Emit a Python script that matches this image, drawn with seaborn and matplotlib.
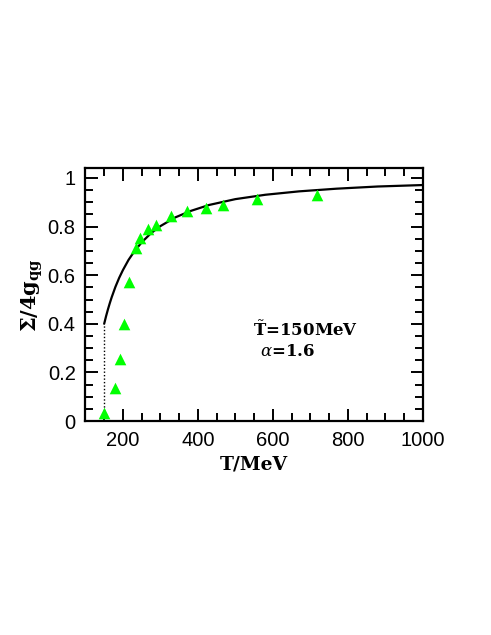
import matplotlib
matplotlib.use("Agg")
import matplotlib.pyplot as plt
from matplotlib.ticker import MultipleLocator
import seaborn as sns
import pandas as pd

# data
data_T = [150, 178, 193, 204, 216, 235, 246, 268, 287, 328, 371, 423, 466, 559, 717]
data_y = [0.034, 0.134, 0.255, 0.40, 0.574, 0.711, 0.755, 0.79, 0.808, 0.843,
          0.863, 0.877, 0.89, 0.914, 0.932]

curve_T = [150, 155, 160, 165, 170, 180, 190, 200, 215, 230, 250, 275, 300, 340,
           380, 430, 500, 580, 670, 770, 880, 1000]
curve_y = [0.400, 0.431, 0.459, 0.485, 0.509, 0.552, 0.589, 0.621, 0.663, 0.697,
           0.735, 0.773, 0.802, 0.838, 0.864, 0.889, 0.913, 0.931, 0.945, 0.956,
           0.965, 0.971]

x_ticks = [200, 400, 600, 800, 1000]
y_ticks = [0, 0.2, 0.4, 0.6, 0.8, 1]
y_tick_labels = ["0", "0.2", "0.4", "0.6", "0.8", "1"]

sns.set_style("ticks")
plt.rcParams["font.family"] = ["Liberation Sans", "DejaVu Sans"]
plt.rcParams["mathtext.fontset"] = "dejavuserif"
for k in ["text.color", "axes.labelcolor", "xtick.color", "ytick.color",
          "axes.edgecolor"]:
    plt.rcParams[k] = "black"

fig = plt.figure(figsize=(4.91, 6.35), dpi=100)
ax = fig.add_axes([0.174, 0.337, 0.687, 0.398])

df_pts = pd.DataFrame({"T": data_T, "y": data_y})
df_cur = pd.DataFrame({"T": curve_T, "y": curve_y})

sns.lineplot(data=df_cur, x="T", y="y", ax=ax, color="black", linewidth=1.6,
             sort=True, estimator=None)
ax.plot([curve_T[0], curve_T[0]], [0, curve_y[0]], color="black",
        linestyle=(0, (1, 1.5)), linewidth=1.0)
sns.scatterplot(data=df_pts, x="T", y="y", ax=ax, marker="^", color="#00ff00",
                s=70, linewidth=0, zorder=3)

ax.set_xlim(100, 1000)
ax.set_ylim(0, 1.04)
ax.set_xticks(x_ticks)
ax.set_yticks(y_ticks)
ax.set_yticklabels(y_tick_labels)
ax.xaxis.set_minor_locator(MultipleLocator(50))
ax.yaxis.set_minor_locator(MultipleLocator(0.05))
ax.tick_params(which="both", direction="in", top=True, right=True, width=1.4,
               labelsize=14.5, pad=7)
ax.tick_params(which="major", length=9)
ax.tick_params(which="minor", length=5.5)
for sp in ax.spines.values():
    sp.set_linewidth(1.6)
    sp.set_visible(True)

ax.set_xlabel("T/MeV", family="DejaVu Serif", fontweight="bold", fontsize=13.5,
              labelpad=4)
ax.set_ylabel(r"$\mathbf{\Sigma/4g_{qg}}$", fontsize=15, labelpad=2)

ax.text(546, 0.348, r"$\tilde{\mathbf{T}}$=150MeV", family="DejaVu Serif",
        fontweight="bold", fontsize=12, va="baseline", ha="left")
ax.text(566, 0.266, r"$\alpha$=1.6", family="DejaVu Serif",
        fontweight="bold", fontsize=12, va="baseline", ha="left")

fig.savefig("out.png", dpi=100)
